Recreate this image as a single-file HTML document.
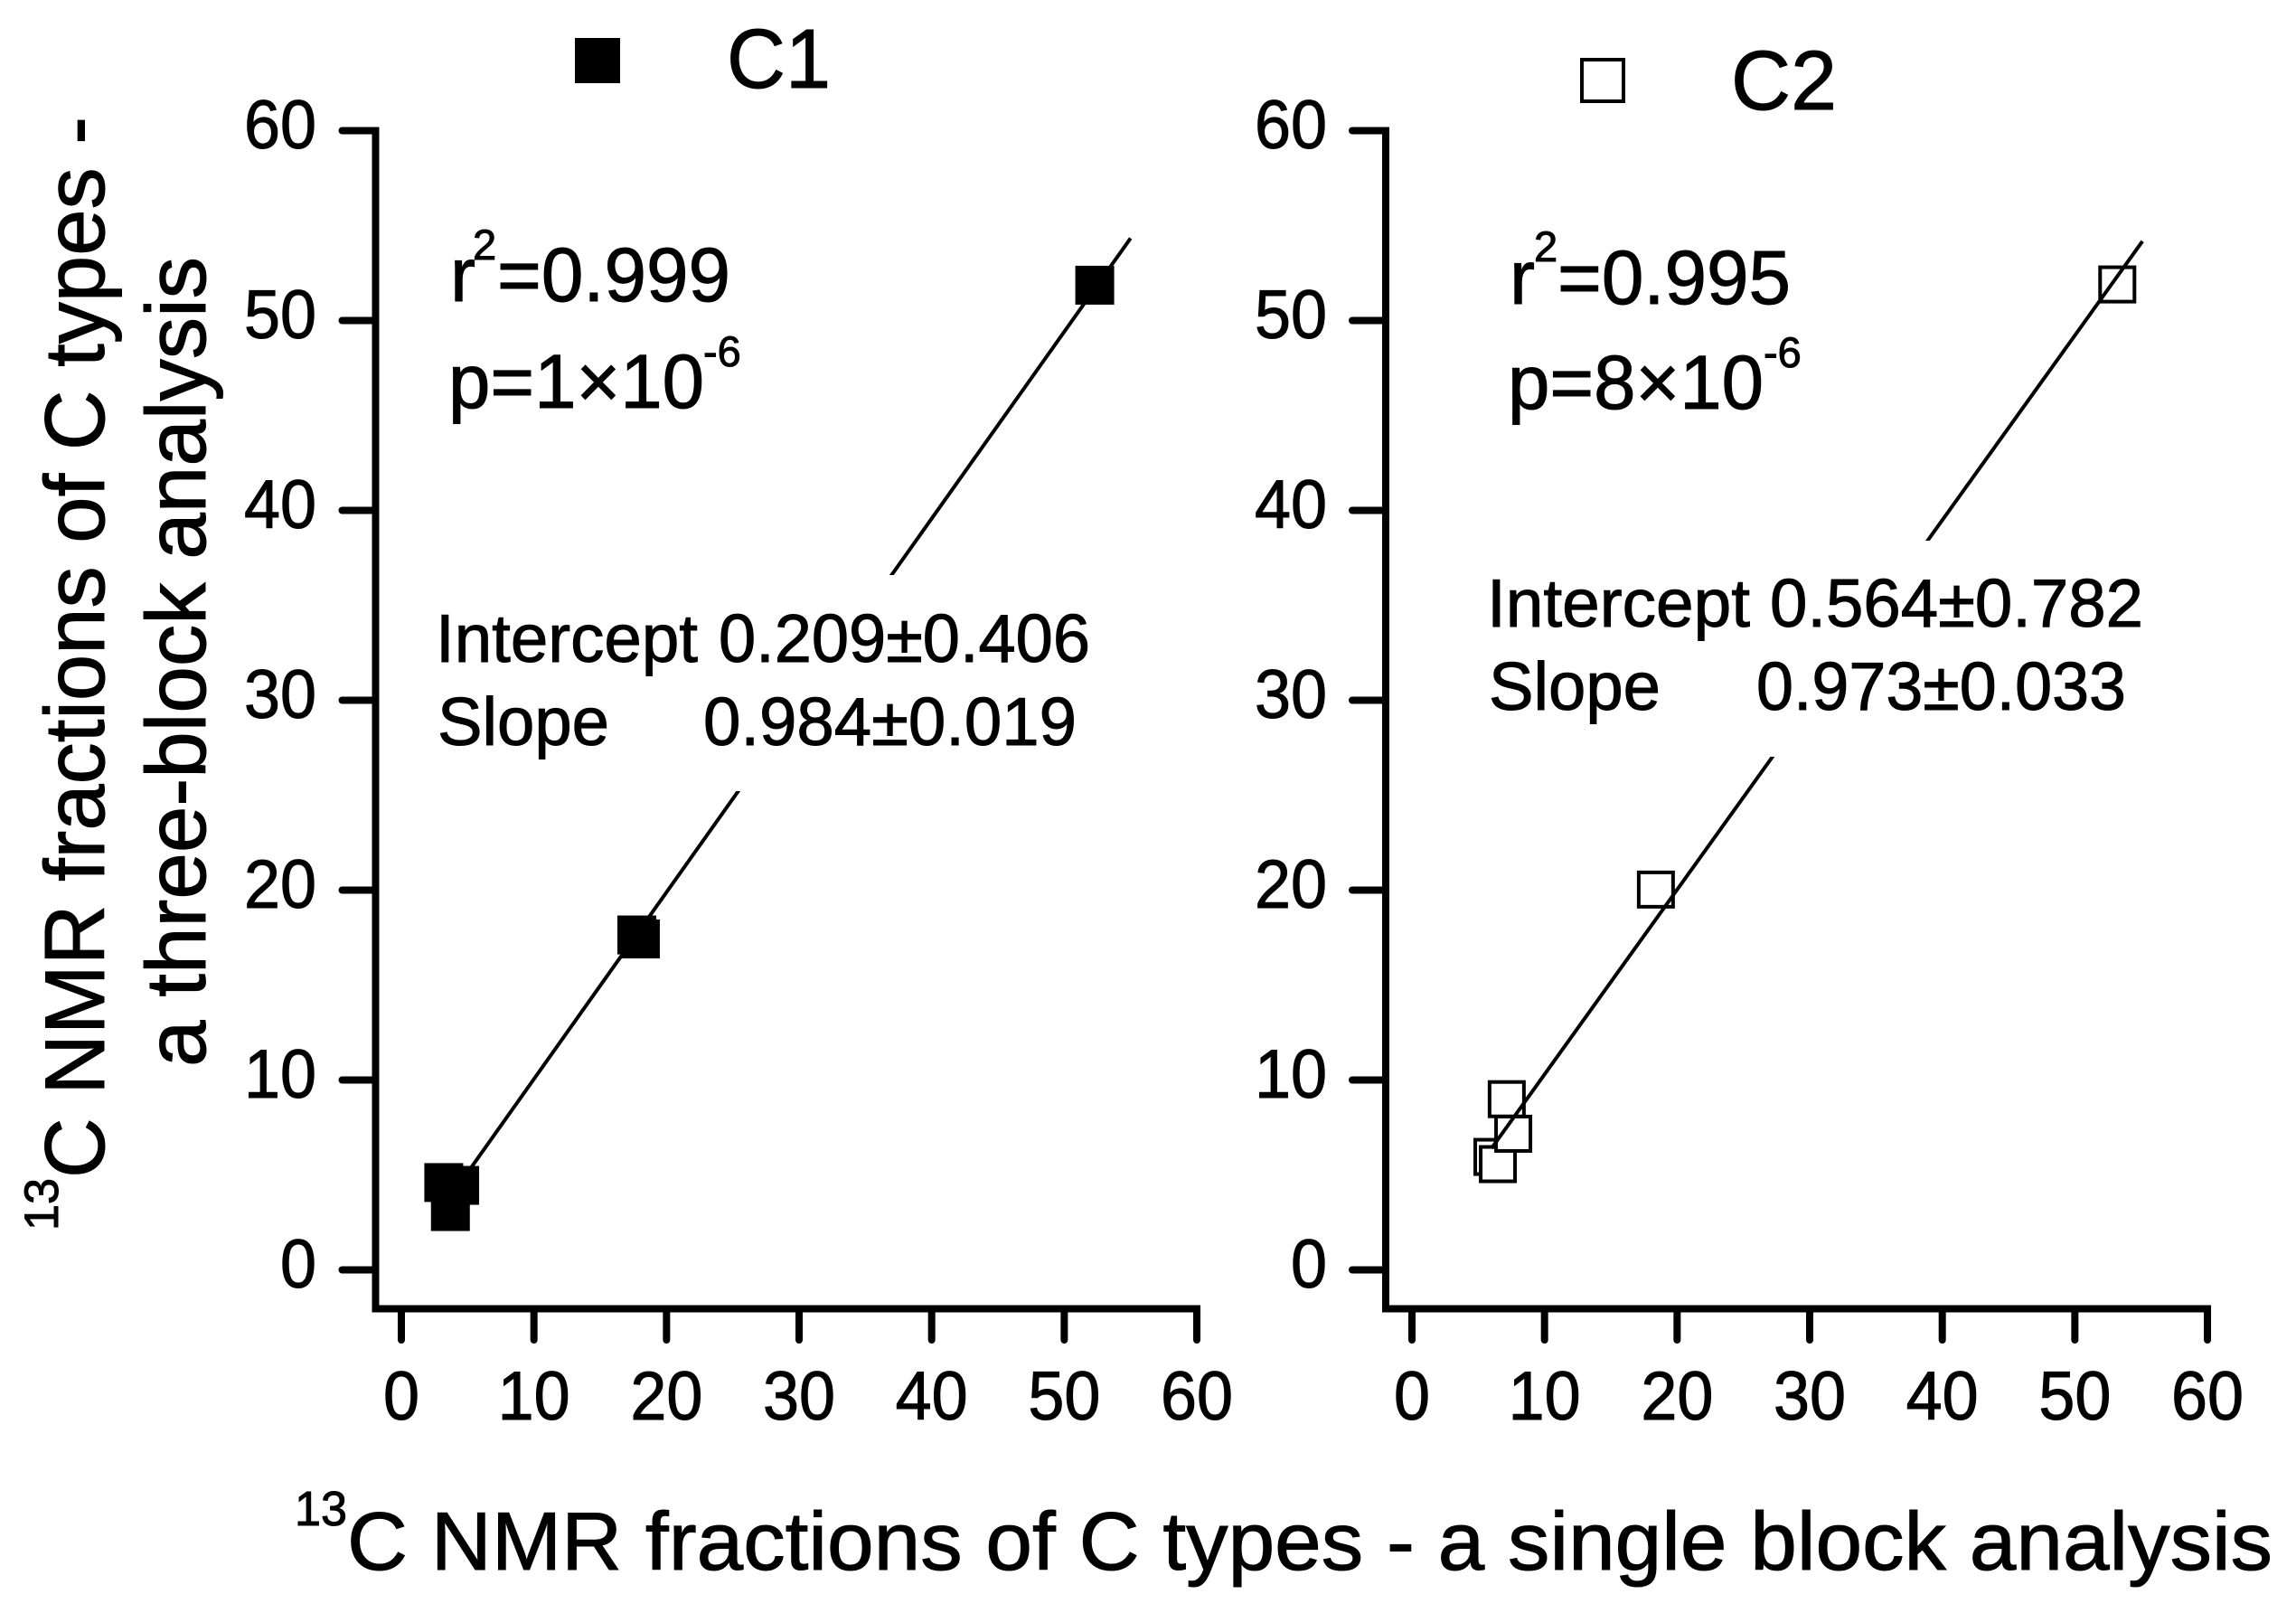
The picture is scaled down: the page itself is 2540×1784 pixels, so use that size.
<!DOCTYPE html>
<html lang="en">
<head>
<meta charset="utf-8">
<title>13C NMR fractions of C types: three-block versus single block analysis</title>
<style>
html,body{margin:0;padding:0;background:#fff;width:2540px;height:1784px;overflow:hidden}
svg{display:block}
text{font-family:"Liberation Sans",Arial,sans-serif;fill:#000;stroke:#000;stroke-width:1px}
</style>
</head>
<body>
<svg id="chart" xmlns="http://www.w3.org/2000/svg" width="2540" height="1784" viewBox="0 0 2540 1784">
  <rect x="0" y="0" width="2540" height="1784" fill="#fff"/>

  <g id="panel-c1"></g>
  <g id="panel-c2"></g>

  <!-- Y title -->
  <g>
    <text transform="translate(64,1361) rotate(-90)" font-size="53" textLength="58" lengthAdjust="spacingAndGlyphs">13</text>
    <text transform="translate(115,1303) rotate(-90)" font-size="94" textLength="1174" lengthAdjust="spacingAndGlyphs">C NMR fractions of C types -</text>
    <text transform="translate(227,1180) rotate(-90)" font-size="94" textLength="896" lengthAdjust="spacingAndGlyphs">a three-block analysis</text>
  </g>

  <!-- X title -->
  <g>
    <text x="326" y="1687" font-size="54" textLength="58" lengthAdjust="spacingAndGlyphs">13</text>
    <text x="384" y="1736" font-size="91" textLength="2130" lengthAdjust="spacingAndGlyphs">C NMR fractions of C types - a single block analysis</text>
  </g>

  <!-- Legends -->
  <g>
    <rect x="636" y="42" width="50" height="50" fill="#000"/>
    <text x="804" y="97" font-size="93" textLength="115" lengthAdjust="spacingAndGlyphs">C1</text>
  </g>
  <g>
    <rect x="1750" y="66" width="46" height="46" fill="#fff" stroke="#000" stroke-width="4"/>
    <text x="1915" y="121" font-size="93" textLength="117" lengthAdjust="spacingAndGlyphs">C2</text>
  </g>

  <!-- Left annotations -->
  <g>
    <text x="498" y="333" font-size="84">r</text>
    <text x="523" y="287" font-size="47">2</text>
    <text x="550" y="333" font-size="84" textLength="258" lengthAdjust="spacingAndGlyphs">=0.999</text>
    <text x="496" y="451" font-size="84" textLength="283" lengthAdjust="spacingAndGlyphs">p=1×10</text>
    <text x="778" y="405" font-size="47">-6</text>
    <text x="482" y="732" font-size="75" textLength="290" lengthAdjust="spacingAndGlyphs">Intercept</text>
    <text x="795" y="732" font-size="75" textLength="411" lengthAdjust="spacingAndGlyphs">0.209±0.406</text>
    <text x="484" y="824" font-size="75" textLength="190" lengthAdjust="spacingAndGlyphs">Slope</text>
    <text x="778" y="824" font-size="75" textLength="413" lengthAdjust="spacingAndGlyphs">0.984±0.019</text>
  </g>

  <!-- Right annotations -->
  <g>
    <text x="1670" y="336" font-size="84">r</text>
    <text x="1697" y="289" font-size="47">2</text>
    <text x="1723" y="336" font-size="84" textLength="258" lengthAdjust="spacingAndGlyphs">=0.995</text>
    <text x="1668" y="452" font-size="84" textLength="283" lengthAdjust="spacingAndGlyphs">p=8×10</text>
    <text x="1951" y="406" font-size="47">-6</text>
    <text x="1645" y="693" font-size="75" textLength="291" lengthAdjust="spacingAndGlyphs">Intercept</text>
    <text x="1958" y="693" font-size="75" textLength="413" lengthAdjust="spacingAndGlyphs">0.564±0.782</text>
    <text x="1647" y="785" font-size="75" textLength="190" lengthAdjust="spacingAndGlyphs">Slope</text>
    <text x="1943" y="785" font-size="75" textLength="409" lengthAdjust="spacingAndGlyphs">0.973±0.033</text>
  </g>
</svg>

<script>
const xTickValues = [0, 10, 20, 30, 40, 50, 60];
const yTickValues = [0, 10, 20, 30, 40, 50, 60];
const xTickLabels = ['0', '10', '20', '30', '40', '50', '60'];
const yTickLabels = ['0', '10', '20', '30', '40', '50', '60'];

const c1SingleBlock = [3.2, 4.4, 3.7, 17.76, 18.03, 52.3];
const c1ThreeBlock = [4.6, 4.45, 3.07, 17.64, 17.43, 51.86];
const c1FitIntercept = 0.209;
const c1FitSlope = 0.984;
const c1FitRange = [5, 55];

const c2SingleBlock = [6.07, 6.48, 7.64, 7.15, 18.4, 53.2];
const c2ThreeBlock = [5.95, 5.57, 7.17, 8.99, 20.03, 51.9];
const c2FitIntercept = 0.564;
const c2FitSlope = 0.973;
const c2FitRange = [6, 55.1];

const SVG_NS = 'http://www.w3.org/2000/svg';
const Y_ZERO = 1404.5;
const Y_UNIT = 21;
const X_UNIT = 14.667;
const X_AXIS_Y = 1447.5;

function yScale(v) {
  return Y_ZERO - v * Y_UNIT;
}

function drawPanel(cfg) {
  const root = document.getElementById(cfg.id);
  const xScale = function (v) { return cfg.xZero + v * X_UNIT; };

  cfg.xs.forEach(function (xv, i) {
    if (!cfg.filled) return;
    const m = document.createElementNS(SVG_NS, 'rect');
    
    
    m.setAttribute('x', xScale(xv) - 21.5);
    m.setAttribute('y', yScale(cfg.ys[i]) - 21.5);
    m.setAttribute('width', 43);
    m.setAttribute('height', 43);
    m.setAttribute('fill', '#000');
    root.appendChild(m);
  });

  cfg.xs.forEach(function (xv, i) {
    if (cfg.filled) return;
    const m = document.createElementNS(SVG_NS, 'rect');
    
    
    m.setAttribute('x', xScale(xv) - 19);
    m.setAttribute('y', yScale(cfg.ys[i]) - 19);
    m.setAttribute('width', 38);
    m.setAttribute('height', 38);
    m.setAttribute('fill', '#fff');
    m.setAttribute('stroke', '#000');
    m.setAttribute('stroke-width', 4);
    root.appendChild(m);
  });

  const fit = document.createElementNS(SVG_NS, 'line');
  
  
  fit.setAttribute('x1', xScale(cfg.fitRange[0]));
  fit.setAttribute('y1', yScale(cfg.intercept + cfg.slope * cfg.fitRange[0]));
  fit.setAttribute('x2', xScale(cfg.fitRange[1]));
  fit.setAttribute('y2', yScale(cfg.intercept + cfg.slope * cfg.fitRange[1]));
  fit.setAttribute('stroke', '#000');
  fit.setAttribute('stroke-width', 4);
  root.appendChild(fit);

  const mask = document.createElementNS(SVG_NS, 'rect');
  
  
  mask.setAttribute('x', cfg.maskX);
  mask.setAttribute('y', cfg.maskY);
  mask.setAttribute('width', 760);
  mask.setAttribute('height', 239);
  mask.setAttribute('fill', '#fff');
  root.appendChild(mask);

  const yAxis = document.createElementNS(SVG_NS, 'line');
  
  
  yAxis.setAttribute('x1', cfg.yAxisX);
  yAxis.setAttribute('y1', yScale(60) - 4);
  yAxis.setAttribute('x2', cfg.yAxisX);
  yAxis.setAttribute('y2', X_AXIS_Y + 4);
  yAxis.setAttribute('stroke', '#000');
  yAxis.setAttribute('stroke-width', 8);
  root.appendChild(yAxis);

  const xAxis = document.createElementNS(SVG_NS, 'line');
  
  
  xAxis.setAttribute('x1', cfg.yAxisX - 4);
  xAxis.setAttribute('y1', X_AXIS_Y);
  xAxis.setAttribute('x2', xScale(60) + 4);
  xAxis.setAttribute('y2', X_AXIS_Y);
  xAxis.setAttribute('stroke', '#000');
  xAxis.setAttribute('stroke-width', 8);
  root.appendChild(xAxis);

  yTickValues.forEach(function (v, i) {
    const tick = document.createElementNS(SVG_NS, 'line');
    
    
    tick.setAttribute('x1', cfg.yAxisX - 37);
    tick.setAttribute('y1', yScale(v));
    tick.setAttribute('x2', cfg.yAxisX);
    tick.setAttribute('y2', yScale(v));
    tick.setAttribute('stroke', '#000');
    tick.setAttribute('stroke-width', 8);
    tick.setAttribute('stroke-linecap', 'round');
    root.appendChild(tick);

    const label = document.createElementNS(SVG_NS, 'text');
    
    
    label.setAttribute('x', cfg.yLabelX);
    label.setAttribute('y', yScale(v) + 19.5);
    label.setAttribute('font-size', 76);
    label.setAttribute('text-anchor', 'end');
    label.setAttribute('textLength', yTickLabels[i].length * 40);
    label.setAttribute('lengthAdjust', 'spacingAndGlyphs');
    label.textContent = yTickLabels[i];
    root.appendChild(label);
  });

  xTickValues.forEach(function (v, i) {
    const tick = document.createElementNS(SVG_NS, 'line');
    
    
    tick.setAttribute('x1', xScale(v));
    tick.setAttribute('y1', X_AXIS_Y);
    tick.setAttribute('x2', xScale(v));
    tick.setAttribute('y2', 1482);
    tick.setAttribute('stroke', '#000');
    tick.setAttribute('stroke-width', 8);
    tick.setAttribute('stroke-linecap', 'round');
    root.appendChild(tick);

    const label = document.createElementNS(SVG_NS, 'text');
    
    
    label.setAttribute('x', xScale(v));
    label.setAttribute('y', 1570);
    label.setAttribute('font-size', 76);
    label.setAttribute('text-anchor', 'middle');
    label.setAttribute('textLength', xTickLabels[i].length * 40);
    label.setAttribute('lengthAdjust', 'spacingAndGlyphs');
    label.textContent = xTickLabels[i];
    root.appendChild(label);
  });
}

drawPanel({
  id: 'panel-c1', prefix: 'c1', filled: true,
  xs: c1SingleBlock, ys: c1ThreeBlock,
  intercept: c1FitIntercept, slope: c1FitSlope, fitRange: c1FitRange,
  xZero: 444, yAxisX: 415.5, yLabelX: 350, maskX: 470, maskY: 636
});
drawPanel({
  id: 'panel-c2', prefix: 'c2', filled: false,
  xs: c2SingleBlock, ys: c2ThreeBlock,
  intercept: c2FitIntercept, slope: c2FitSlope, fitRange: c2FitRange,
  xZero: 1562, yAxisX: 1533, yLabelX: 1468, maskX: 1630, maskY: 598
});
</script>
</body>
</html>
